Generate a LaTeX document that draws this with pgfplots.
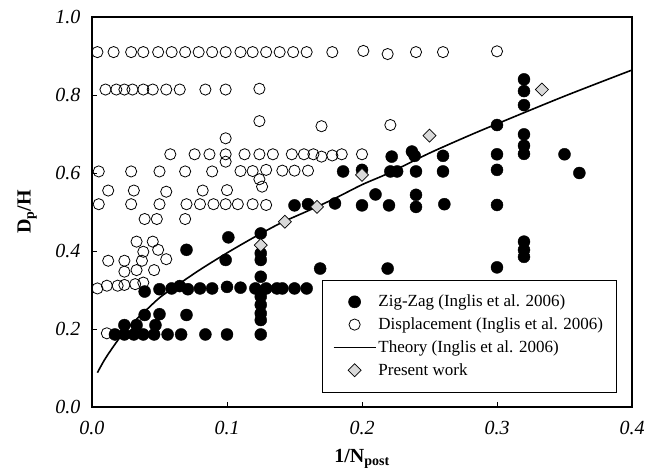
\documentclass[border=0pt]{standalone}
\usepackage{fontspec}
\setmainfont{Liberation Serif}
\usepackage{pgfplots}
\pgfplotsset{compat=1.18}
\pgfplotsset{
  markleg/.style={legend image code/.code={\draw[##1] plot coordinates {(21pt,0pt)};}},
  lineleg/.style={legend image code/.code={\draw[##1] (0pt,0pt) -- (42pt,0pt);}},
}
\pgfplotstableread{
x y
0.017 0.186
0.024 0.186
0.031 0.186
0.038 0.186
0.046 0.186
0.056 0.186
0.066 0.186
0.084 0.186
0.100 0.186
0.125 0.186
0.024 0.210
0.033 0.210
0.047 0.210
0.039 0.236
0.050 0.238
0.070 0.236
0.039 0.296
0.050 0.302
0.059 0.304
0.065 0.310
0.071 0.302
0.080 0.304
0.089 0.304
0.100 0.308
0.110 0.306
0.121 0.304
0.129 0.304
0.137 0.304
0.141 0.304
0.150 0.304
0.159 0.304
0.125 0.223
0.125 0.240
0.125 0.262
0.125 0.283
0.125 0.334
0.125 0.377
0.125 0.394
0.125 0.445
0.101 0.435
0.070 0.403
0.099 0.377
0.169 0.355
0.219 0.355
0.222 0.642
0.237 0.655
0.239 0.644
0.260 0.644
0.186 0.604
0.200 0.608
0.221 0.604
0.226 0.604
0.240 0.604
0.260 0.604
0.210 0.545
0.240 0.544
0.150 0.517
0.160 0.520
0.180 0.522
0.200 0.517
0.220 0.517
0.240 0.513
0.261 0.520
0.300 0.723
0.300 0.648
0.300 0.608
0.300 0.518
0.300 0.358
0.320 0.840
0.320 0.810
0.320 0.774
0.320 0.699
0.320 0.670
0.320 0.649
0.320 0.424
0.320 0.403
0.320 0.385
0.350 0.648
0.361 0.600
}\zigzag
\pgfplotstableread{
x y
0.004 0.910
0.016 0.910
0.029 0.910
0.038 0.910
0.049 0.910
0.059 0.910
0.069 0.910
0.079 0.910
0.089 0.910
0.099 0.910
0.110 0.910
0.119 0.910
0.129 0.910
0.139 0.910
0.149 0.910
0.159 0.910
0.178 0.910
0.201 0.913
0.219 0.905
0.240 0.910
0.260 0.910
0.300 0.912
0.010 0.814
0.018 0.814
0.024 0.814
0.030 0.814
0.038 0.814
0.045 0.814
0.055 0.814
0.065 0.814
0.084 0.814
0.099 0.814
0.124 0.816
0.124 0.733
0.099 0.689
0.170 0.720
0.221 0.723
0.058 0.648
0.076 0.648
0.087 0.648
0.099 0.648
0.113 0.648
0.124 0.648
0.134 0.648
0.148 0.648
0.157 0.648
0.164 0.648
0.170 0.642
0.178 0.645
0.185 0.648
0.200 0.648
0.099 0.629
0.005 0.604
0.029 0.604
0.050 0.604
0.069 0.604
0.089 0.604
0.110 0.605
0.119 0.605
0.129 0.608
0.141 0.606
0.150 0.606
0.160 0.606
0.124 0.584
0.126 0.565
0.012 0.555
0.031 0.555
0.055 0.552
0.082 0.555
0.100 0.556
0.005 0.520
0.029 0.520
0.050 0.520
0.070 0.520
0.080 0.520
0.090 0.520
0.099 0.520
0.108 0.520
0.119 0.520
0.129 0.518
0.039 0.482
0.048 0.482
0.069 0.482
0.033 0.424
0.045 0.424
0.038 0.398
0.049 0.403
0.012 0.375
0.024 0.375
0.037 0.375
0.055 0.379
0.024 0.347
0.033 0.351
0.046 0.351
0.004 0.304
0.011 0.311
0.019 0.311
0.024 0.313
0.032 0.315
0.038 0.319
0.011 0.189
}\displacement
\pgfplotstableread{
x y
0.004 0.088
0.010 0.125
0.020 0.175
0.030 0.215
0.040 0.248
0.050 0.280
0.060 0.305
0.080 0.352
0.100 0.395
0.120 0.435
0.140 0.472
0.160 0.503
0.180 0.535
0.200 0.570
0.220 0.600
0.250 0.651
0.280 0.697
0.300 0.726
0.350 0.797
0.400 0.864
}\theory
\pgfplotstableread{
x y
0.125 0.415
0.1429 0.475
0.1667 0.513
0.200 0.595
0.250 0.696
0.3333 0.814
}\present
\definecolor{dgray}{RGB}{217,217,217}
\begin{document}
\begin{tikzpicture}
\path[use as bounding box] (-92pt,-66pt) rectangle (555pt,407pt);
\begin{axis}[
  scale only axis, width=540pt, height=390pt,
  xmin=0, xmax=0.4, ymin=0, ymax=1,
  xtick={0,0.1,0.2,0.3,0.4},
  ytick={0,0.2,0.4,0.6,0.8,1.0},
  xtick pos=left, ytick pos=left,
  tick align=inside, major tick length=5pt,
  axis line style={line width=1.8pt},
  tick style={line width=0.8pt, black},
  /pgf/number format/.cd, fixed, fixed zerofill, precision=1, assume math mode=true,
  /pgfplots/.cd,
  tick label style={font=\fontsize{20}{24}\selectfont\itshape},
  x tick label style={yshift=-11pt},
  y tick label style={xshift=-8pt},
  xlabel={\textbf{1/N\textsubscript{post}}},
  ylabel={\textbf{D\textsubscript{p}/H}},
  label style={font=\fontsize{20}{24}\selectfont},
  xlabel style={at={(axis description cs:0.5,-0.132)}, anchor=center},
  ylabel style={at={(axis description cs:-0.12,0.5)}, anchor=center},
  legend style={at={(axis cs:0.170,0.326)}, anchor=north west, draw=black, line width=0.6pt,
    font=\fontsize{17}{20}\selectfont, cells={anchor=west}, inner xsep=11pt, inner ysep=13pt,
    row sep=5.5pt},
]
\addplot[only marks, mark=*, mark size=6pt, mark options={fill=black, draw=black}, markleg]
  table {\zigzag};
\addlegendentry{Zig-Zag (Inglis et al. 2006)}
\addplot[only marks, mark=o, mark size=5.6pt, mark options={draw=black, line width=0.8pt}, markleg]
  table {\displacement};
\addlegendentry{Displacement (Inglis et al. 2006)}
\addplot[black, line width=1.6pt, smooth, no marks, lineleg]
  table {\theory};
\addlegendentry{Theory (Inglis et al. 2006)}
\addplot[only marks, mark=square*, mark size=4.6pt,
  mark options={fill=dgray, draw=black, line width=0.7pt, rotate=45}, markleg]
  table {\present};
\addlegendentry{Present work}
\end{axis}
\end{tikzpicture}
\end{document}
